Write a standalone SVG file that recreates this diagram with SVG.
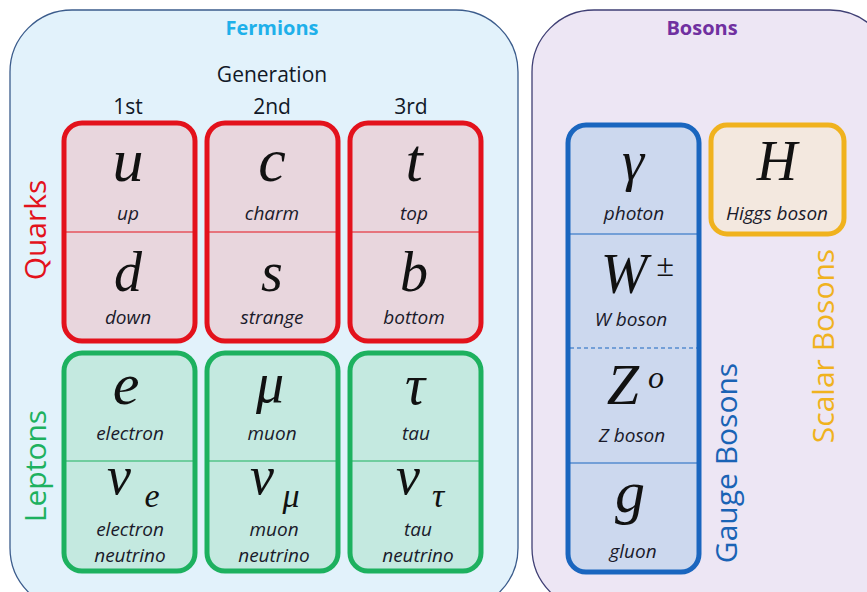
<svg xmlns="http://www.w3.org/2000/svg" width="867" height="592" viewBox="0 0 867 592">
<style>
.sym{font-family:"Liberation Serif","DejaVu Serif",serif;font-style:italic;fill:#111;text-anchor:middle}
.lbl{font-family:"Open Sans","Liberation Sans",sans-serif;font-style:italic;font-size:19px;fill:#1a1a2a;text-anchor:middle}
.hdr{font-family:"Open Sans","Liberation Sans",sans-serif;font-size:21px;fill:#111827;text-anchor:middle}
.side{font-family:"Open Sans","Liberation Sans",sans-serif;font-size:30px;text-anchor:middle}
.q{fill:#e8d6dd;stroke:#e3121c;stroke-width:5}
.l{fill:#c4e9e0;stroke:#1db15f;stroke-width:5}
.qd{stroke:#e3121c;stroke-width:1.2}
.ld{stroke:#1db15f;stroke-width:1.2}
</style>
<rect width="867" height="592" fill="#ffffff"/>
<g id="fermions">
<rect x="10" y="10" width="508" height="600" rx="62" fill="#e2f2fb" stroke="#3b5c8c" stroke-width="1.3"/>
<text x="272" y="35" font-family="Open Sans,Liberation Sans,sans-serif" font-weight="bold" font-size="20" fill="#1eb0ea" text-anchor="middle">Fermions</text>
<text class="hdr" x="272" y="82">Generation</text>
<text class="hdr" x="128" y="114">1st</text>
<text class="hdr" x="272" y="114">2nd</text>
<text class="hdr" x="411" y="114">3rd</text>
<text class="side" fill="#e3121c" transform="translate(46 230) rotate(-90)">Quarks</text>
<text class="side" fill="#1db15f" transform="translate(46 466) rotate(-90)">Leptons</text>
</g>
<g id="q1">
<rect class="q" x="64" y="123" width="131" height="218" rx="18"/>
<line class="qd" x1="66" y1="232" x2="193" y2="232"/>
<text class="sym" x="128" y="181" font-size="62">u</text>
<text class="lbl" x="128" y="220">up</text>
<text class="sym" x="128" y="291" font-size="56">d</text>
<text class="lbl" x="128" y="324">down</text>
</g>
<g id="q2">
<rect class="q" x="207" y="123" width="131" height="218" rx="18"/>
<line class="qd" x1="209" y1="232" x2="336" y2="232"/>
<text class="sym" x="272" y="181" font-size="62">c</text>
<text class="lbl" x="272" y="220">charm</text>
<text class="sym" x="272" y="291" font-size="56">s</text>
<text class="lbl" x="272" y="324">strange</text>
</g>
<g id="q3">
<rect class="q" x="350" y="123" width="131" height="218" rx="18"/>
<line class="qd" x1="352" y1="232" x2="479" y2="232"/>
<text class="sym" x="414" y="181" font-size="62">t</text>
<text class="lbl" x="414" y="220">top</text>
<text class="sym" x="414" y="291" font-size="56">b</text>
<text class="lbl" x="414" y="324">bottom</text>
</g>
<g id="l1">
<rect class="l" x="64" y="353" width="131" height="218" rx="18"/>
<line class="ld" x1="66" y1="461" x2="193" y2="461"/>
<text class="sym" x="126" y="404" font-size="60">e</text>
<text class="lbl" x="130" y="440">electron</text>
<text class="sym" x="119" y="494" font-size="54">ν</text>
<text class="sym" x="152" y="507" font-size="34">e</text>
<text class="lbl" x="130" y="536">electron</text>
<text class="lbl" x="130" y="562">neutrino</text>
</g>
<g id="l2">
<rect class="l" x="207" y="353" width="131" height="218" rx="18"/>
<line class="ld" x1="209" y1="461" x2="336" y2="461"/>
<text class="sym" x="270" y="402" font-size="56">μ</text>
<text class="lbl" x="272" y="440">muon</text>
<text class="sym" x="262" y="494" font-size="54">ν</text>
<text class="sym" x="291" y="507" font-size="34">μ</text>
<text class="lbl" x="274" y="536">muon</text>
<text class="lbl" x="274" y="562">neutrino</text>
</g>
<g id="l3">
<rect class="l" x="350" y="353" width="131" height="218" rx="18"/>
<line class="ld" x1="352" y1="461" x2="479" y2="461"/>
<text class="sym" x="415" y="404" font-size="56">τ</text>
<text class="lbl" x="416" y="440">tau</text>
<text class="sym" x="408" y="494" font-size="54">ν</text>
<text class="sym" x="438" y="507" font-size="34">τ</text>
<text class="lbl" x="418" y="536">tau</text>
<text class="lbl" x="418" y="562">neutrino</text>
</g>
<g id="bosons">
<rect x="532" y="10" width="360" height="600" rx="62" fill="#ede6f4" stroke="#3f3f74" stroke-width="1.3"/>
<text x="702" y="35" font-family="Open Sans,Liberation Sans,sans-serif" font-weight="bold" font-size="20" fill="#7030a0" text-anchor="middle">Bosons</text>
<text class="side" fill="#1a63b5" transform="translate(737 463) rotate(-90)">Gauge Bosons</text>
<text class="side" fill="#f0b21e" transform="translate(834 346) rotate(-90)">Scalar Bosons</text>
</g>
<g id="gauge">
<rect x="568" y="125" width="131" height="447" rx="18" fill="#ccd8ee" stroke="#1a66bf" stroke-width="5"/>
<line x1="570" y1="234" x2="697" y2="234" stroke="#1a66bf" stroke-width="1.2"/>
<line x1="570" y1="348" x2="697" y2="348" stroke="#1a66bf" stroke-width="1.2" stroke-dasharray="4 3"/>
<line x1="570" y1="463" x2="697" y2="463" stroke="#1a66bf" stroke-width="1.2"/>
<text class="sym" x="633" y="180" font-size="56">γ</text>
<text class="lbl" x="634" y="220">photon</text>
<text class="sym" x="624" y="293" font-size="56">W</text>
<text class="sym" x="665" y="276" font-size="32" font-style="normal">±</text>
<text class="lbl" x="631" y="326">W boson</text>
<text class="sym" x="623" y="404" font-size="58">Z</text>
<text class="sym" x="656" y="388" font-size="32">o</text>
<text class="lbl" x="632" y="442">Z boson</text>
<text class="sym" x="630" y="512" font-size="60">g</text>
<text class="lbl" x="633" y="558">gluon</text>
</g>
<g id="higgs">
<rect x="711" y="125" width="133" height="109" rx="16" fill="#f3e8df" stroke="#f0b21e" stroke-width="5"/>
<text class="sym" x="777" y="180" font-size="56">H</text>
<text class="lbl" x="777" y="220">Higgs boson</text>
</g>
</svg>
